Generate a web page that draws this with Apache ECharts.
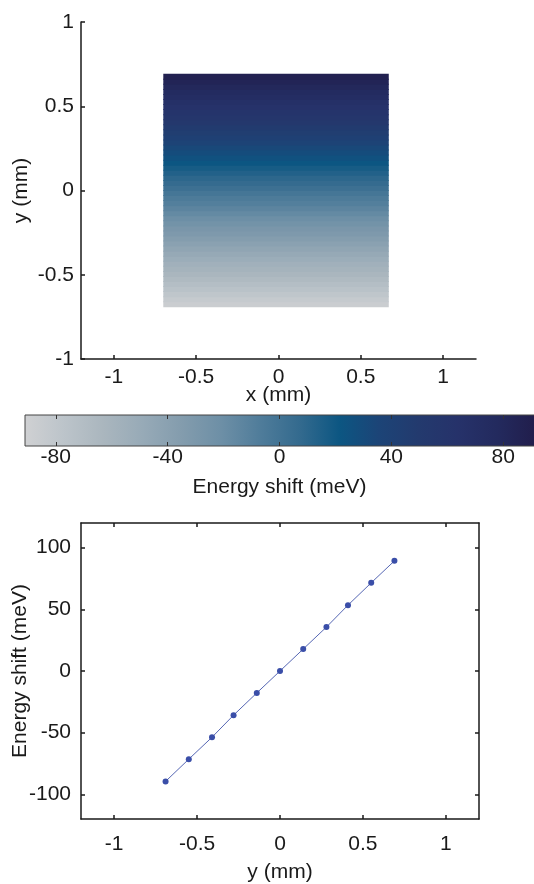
<!DOCTYPE html>
<html>
<head>
<meta charset="utf-8">
<script src="https://cdn.jsdelivr.net/npm/echarts@6/dist/echarts.min.js"></script>
<style>
  html, body { margin: 0; padding: 0; background: #fff; }
  #chart { width: 534px; height: 884px; }
</style>
</head>
<body>
<div id="chart"></div>
<script>
// axis ticks
const posTicks = [-1, -0.5, 0, 0.5, 1];
const barTicks = [-80, -40, 0, 40, 80];
const energyTicks = [-100, -50, 0, 50, 100];

// energy map: one value per row (row centre y in mm)
const mapRowY = [-0.675, -0.645, -0.615, -0.585, -0.555, -0.525, -0.495, -0.465, -0.435, -0.405,
  -0.375, -0.345, -0.315, -0.285, -0.255, -0.225, -0.195, -0.165, -0.135, -0.105, -0.075, -0.045, -0.015,
  0.015, 0.045, 0.075, 0.105, 0.135, 0.165, 0.195, 0.225, 0.255, 0.285, 0.315, 0.345, 0.375,
  0.405, 0.435, 0.465, 0.495, 0.525, 0.555, 0.585, 0.615, 0.645, 0.675];
const mapRowE = [-87, -83, -79, -75, -71, -67, -63, -59, -56, -52,
  -48, -44, -40, -36, -32, -29, -25, -21, -17, -13, -9, -6, -2,
  2, 6, 9, 13, 17, 21, 25, 29, 32, 36, 40,
  44, 48, 52, 56, 59, 63, 67, 71, 75, 79, 83, 87];
const mapXSpan = [-0.70, 0.67];

// colour scale (evenly spaced from barMin to barMax)
const barMin = -91, barMax = 91;
const paletteColors = ["#d0d1d3", "#bcc4ca", "#aab6be", "#97aab7", "#839cad", "#6d8fa6", "#4f7c9a",
  "#336a8e", "#0c5682", "#1c4477", "#233a6e", "#26326a", "#232a5e", "#211d4b"];

// line scan along y
const scanY = [-0.69, -0.55, -0.41, -0.28, -0.14, 0, 0.14, 0.28, 0.41, 0.55, 0.69];
const scanE = [-89.5, -71.5, -53.7, -35.8, -17.8, 0, 17.8, 35.6, 53.4, 71.5, 89.3];

const FONT = "Liberation Sans";
const ink = "#1a1a1a";
const lineStyle = { color: ink, width: 1.5 };
const rowHalf = 0.015;

const chart = echarts.init(document.getElementById("chart"));

const labelBase = { color: ink, fontFamily: FONT, fontSize: 21 };
const nameBase = { color: ink, fontFamily: FONT, fontSize: 21 };

function valueAxis(extra) {
  return Object.assign({
    type: "value",
    splitLine: { show: false },
    nameMoveOverlap: false,
    axisLine: { show: true, onZero: false, lineStyle: lineStyle },
    axisTick: { show: true, inside: true, length: 4, lineStyle: lineStyle },
    axisLabel: Object.assign({}, labelBase),
  }, extra);
}

const stops = paletteColors.map((c, i) => ({ offset: i / (paletteColors.length - 1), color: c }));

const option = {
  animation: false,
  grid: [
    { left: 81, top: 22, width: 395, height: 337, outerBoundsMode: "none" },
    { left: 25, top: 415, width: 509, height: 31, outerBoundsMode: "none" },
    { left: 81, top: 523, width: 398, height: 296, outerBoundsMode: "none" },
  ],
  visualMap: {
    type: "continuous",
    show: false,
    min: barMin,
    max: barMax,
    dimension: 1,
    seriesIndex: 0,
    inRange: { color: paletteColors },
  },
  xAxis: [
    valueAxis({
      gridIndex: 0, min: -1.2, max: 1.2,
      axisTick: { show: true, inside: true, length: 4, lineStyle: lineStyle, customValues: posTicks },
      axisLabel: Object.assign({ margin: 8, customValues: posTicks }, labelBase),
      name: "x (mm)", nameLocation: "middle", nameGap: 26, nameTextStyle: nameBase,
    }),
    valueAxis({
      gridIndex: 1, min: barMin, max: barMax, z: 5,
      axisLine: { show: false },
      axisTick: { show: true, inside: true, length: 4, lineStyle: { color: "#333", width: 1 }, customValues: barTicks },
      axisLabel: Object.assign({ margin: 1, customValues: barTicks }, labelBase),
      name: "Energy shift (meV)", nameLocation: "middle", nameGap: 31, nameTextStyle: nameBase,
    }),
    valueAxis({
      gridIndex: 1, min: barMin, max: barMax, position: "top", z: 5,
      axisLine: { show: false },
      axisTick: { show: true, inside: true, length: 4, lineStyle: { color: "#333", width: 1 }, customValues: barTicks },
      axisLabel: { show: false },
    }),
    valueAxis({
      gridIndex: 2, min: -1.2, max: 1.2,
      axisTick: { show: true, inside: true, length: 4, lineStyle: lineStyle, customValues: posTicks },
      axisLabel: Object.assign({ margin: 15, customValues: posTicks }, labelBase),
      name: "y (mm)", nameLocation: "middle", nameGap: 43, nameTextStyle: nameBase,
    }),
    valueAxis({
      gridIndex: 2, min: -1.2, max: 1.2, position: "top",
      axisTick: { show: true, inside: true, length: 4, lineStyle: lineStyle, customValues: posTicks },
      axisLabel: { show: false },
    }),
  ],
  yAxis: [
    valueAxis({
      gridIndex: 0, min: -1, max: 1, interval: 0.5,
      axisLabel: Object.assign({ margin: 7 }, labelBase),
      name: "y (mm)", nameLocation: "middle", nameGap: 49, nameTextStyle: nameBase,
    }),
    { type: "value", gridIndex: 1, min: 0, max: 1, show: false },
    valueAxis({
      gridIndex: 2, min: -120, max: 120,
      axisTick: { show: true, inside: true, length: 4, lineStyle: lineStyle, customValues: energyTicks },
      axisLabel: Object.assign({ margin: 10, customValues: energyTicks }, labelBase),
      name: "Energy shift (meV)", nameLocation: "middle", nameGap: 50, nameTextStyle: nameBase,
    }),
    valueAxis({
      gridIndex: 2, min: -120, max: 120, position: "right",
      axisTick: { show: true, inside: true, length: 4, lineStyle: lineStyle, customValues: energyTicks },
      axisLabel: { show: false },
    }),
  ],
  series: [
    {
      // energy map rows
      type: "custom",
      xAxisIndex: 0,
      yAxisIndex: 0,
      data: mapRowY.map((y, i) => [y, mapRowE[i]]),
      encode: { x: -1, y: 0 },
      renderItem: function (params, api) {
        const y = api.value(0);
        const p0 = api.coord([mapXSpan[0], y + rowHalf]);
        const p1 = api.coord([mapXSpan[1], y - rowHalf]);
        return {
          type: "rect",
          shape: { x: p0[0], y: p0[1] - 0.5, width: p1[0] - p0[0], height: p1[1] - p0[1] + 1 },
          style: { fill: api.visual("color") },
        };
      },
    },
    {
      // colour bar
      type: "custom",
      xAxisIndex: 1,
      yAxisIndex: 1,
      z: 1,
      data: [[barMin, barMax]],
      renderItem: function (params, api) {
        const p0 = api.coord([api.value(0), 1]);
        const p1 = api.coord([api.value(1), 0]);
        return {
          type: "rect",
          shape: { x: p0[0], y: p0[1], width: p1[0] - p0[0] + 2, height: p1[1] - p0[1] },
          style: {
            fill: { type: "linear", x: 0, y: 0, x2: 1, y2: 0, colorStops: stops },
            stroke: "#444",
            lineWidth: 1,
          },
        };
      },
    },
    {
      type: "line",
      xAxisIndex: 3,
      yAxisIndex: 2,
      data: scanY.map((y, i) => [y, scanE[i]]),
      symbol: "circle",
      symbolSize: 6,
      showSymbol: true,
      lineStyle: { color: "#5566b3", width: 1 },
      itemStyle: { color: "#3a4ea8" },
    },
  ],
};

chart.setOption(option);
</script>
</body>
</html>
